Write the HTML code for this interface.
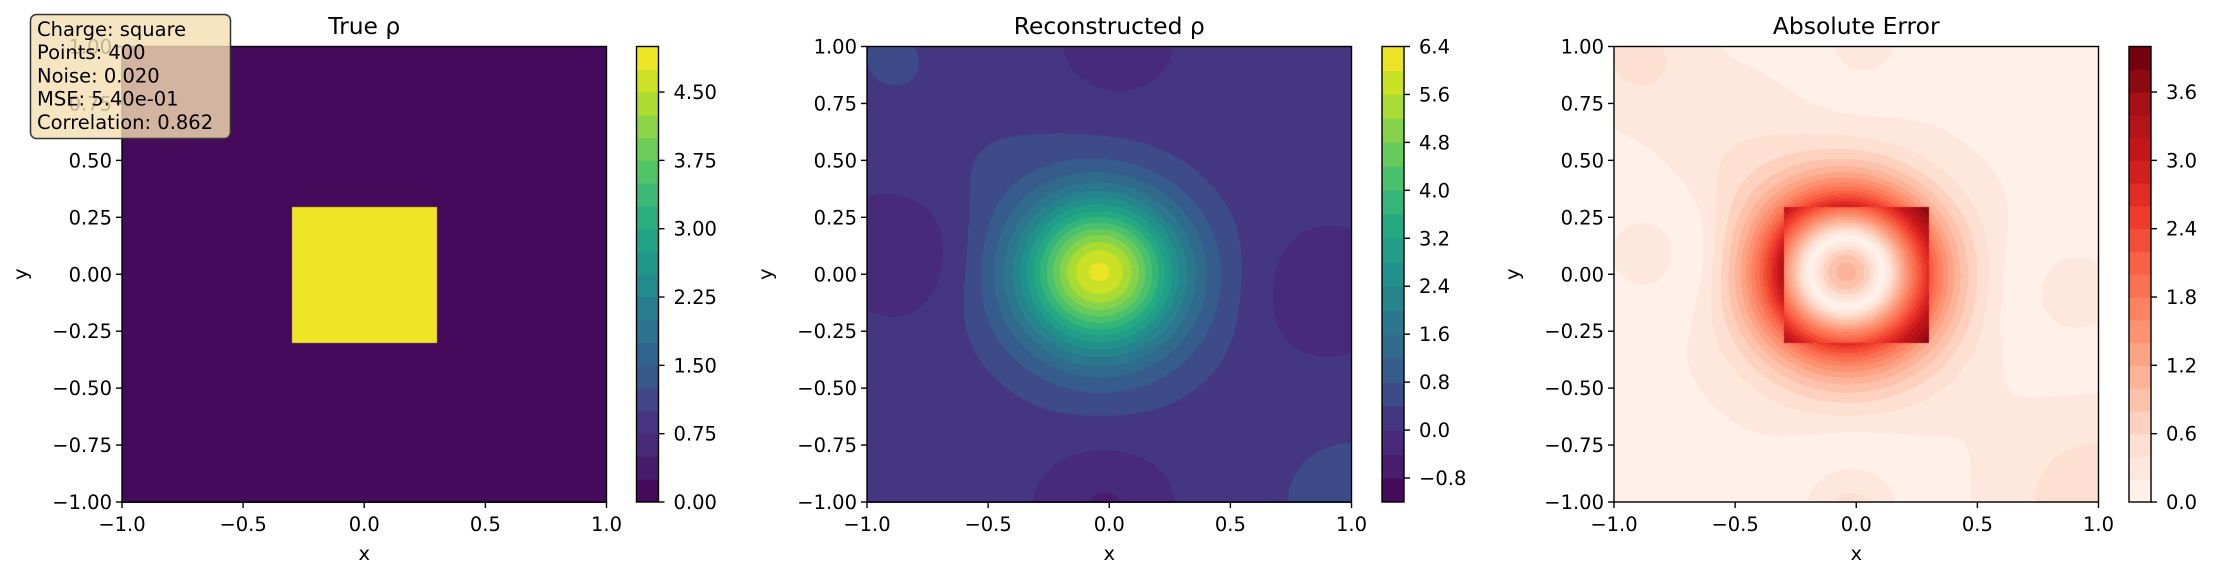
<!DOCTYPE html>
<html><head><meta charset="utf-8">
<style>
html,body{margin:0;padding:0;background:#fff;}
#fig{position:relative;width:2214px;height:581px;overflow:hidden;background:#fff;font-family:"DejaVu Sans","Liberation Sans",sans-serif;}
canvas{position:absolute;}
svg{position:absolute;left:0;top:0;}
text{font-family:"DejaVu Sans","Liberation Sans",sans-serif;fill:#000;}
</style></head>
<body>
<div id="fig">
<canvas id="c0"></canvas>
<canvas id="c1"></canvas>
<canvas id="c2"></canvas>
<svg id="ov" width="2214" height="581"></svg>
</div>
<script>
// ---- data ----
const xTicks = [-1.0, -0.5, 0.0, 0.5, 1.0];
const yTicks = [-1.0, -0.75, -0.5, -0.25, 0.0, 0.25, 0.5, 0.75, 1.0];
const titles = ["True \u03c1", "Reconstructed \u03c1", "Absolute Error"];
const levels0 = {min: 0.0, max: 5.0, step: 0.25};
const levels1 = {min: -1.2, max: 6.4, step: 0.4};
const levels2 = {min: 0.0, max: 4.0, step: 0.2};
const cbTicks0 = [0.00, 0.75, 1.50, 2.25, 3.00, 3.75, 4.50];
const cbTicks1 = [-0.8, 0.0, 0.8, 1.6, 2.4, 3.2, 4.0, 4.8, 5.6, 6.4];
const cbTicks2 = [0.0, 0.6, 1.2, 1.8, 2.4, 3.0, 3.6];
const cbDecimals = [2, 1, 1];
const squareHalf = 0.3;
const squareValue = 5.0;
// reconstruction: baseline + gaussian components (x0, y0, amplitude, spread)
const reconBase = 0.15;
const compX =   [-0.045, -0.03, 0.03, -0.85, 0.9, -0.02, -0.9, -0.5, 1.0];
const compY =   [0.03, -0.05, 1.02, 0.1, -0.08, -1.02, 0.95, 0.5, -1.0];
const compAmp = [4.05, 1.95, -0.5, -0.5, -0.5, -0.6, 0.3, 0.2, 0.4];
const compS =   [0.094, 0.158, 0.045, 0.075, 0.075, 0.065, 0.05, 0.12, 0.15];
const infoLines = ["Charge: square", "Points: 400", "Noise: 0.020", "MSE: 5.40e-01", "Correlation: 0.862"];

// ---- layout ----
const panelLeft = [122, 867, 1614];
const PW = 484.5, PT = 46.5, PH = 455.5;
const cbLeft = [636.5, 1382, 2129], CBW = 22;

const viridis = [[0,"#440154"],[0.05,"#471365"],[0.1,"#482475"],[0.15,"#472f7d"],[0.2,"#443983"],[0.25,"#3b528b"],[0.3,"#355f8d"],[0.4,"#2a788e"],[0.5,"#21918c"],[0.6,"#22a884"],[0.7,"#44bf70"],[0.8,"#7ad151"],[0.9,"#bddf26"],[1,"#fde725"]];
const reds = [[0,"#fff5f0"],[0.125,"#fee0d2"],[0.25,"#fcbba1"],[0.375,"#fc9272"],[0.5,"#fb6a4a"],[0.625,"#ef3b2c"],[0.75,"#cb181d"],[0.875,"#a50f15"],[1,"#67000d"]];
function hex(h){return [parseInt(h.slice(1,3),16),parseInt(h.slice(3,5),16),parseInt(h.slice(5,7),16)];}
function cmap(stops,t){
  t=Math.max(0,Math.min(1,t));
  for(let i=1;i<stops.length;i++){
    if(t<=stops[i][0]){const a=stops[i-1],b=stops[i];const f=(t-a[0])/(b[0]-a[0]);const ca=hex(a[1]),cb=hex(b[1]);
      return [0,1,2].map(k=>Math.round(ca[k]+(cb[k]-ca[k])*f));}
  }
  return hex(stops[stops.length-1][1]);
}
function bandColors(lv,stops){
  const n=Math.round((lv.max-lv.min)/lv.step);const out=[];
  for(let i=0;i<n;i++){const mid=lv.min+(i+0.5)*lv.step;out.push(cmap(stops,(mid-lv.min)/(lv.max-lv.min)));}
  return out;
}
function trueRho(x,y){
  return (Math.abs(x)<=squareHalf && Math.abs(y)<=squareHalf) ? squareValue : 0;
}
function recon(x,y){
  let v=reconBase;
  for(let i=0;i<compX.length;i++){const dx=x-compX[i],dy=y-compY[i];v+=compAmp[i]*Math.exp(-(dx*dx+dy*dy)/compS[i]);}
  return v;
}
const fields=[trueRho, recon, (x,y)=>Math.abs(recon(x,y)-trueRho(x,y))];
const lvls=[levels0,levels1,levels2];
const stopsArr=[viridis,viridis,reds];

for(let p=0;p<3;p++){
  const cv=document.getElementById('c'+p);
  const L=Math.round(panelLeft[p]), T=Math.round(PT), W=Math.round(PW), H=Math.round(PH);
  cv.width=W;cv.height=H;cv.style.left=L+'px';cv.style.top=T+'px';
  const ctx=cv.getContext('2d');const img=ctx.createImageData(W,H);
  const cols=bandColors(lvls[p],stopsArr[p]);const lv=lvls[p];
  for(let j=0;j<H;j++){const y=1-2*(j+0.5)/H;
    for(let i=0;i<W;i++){const x=-1+2*(i+0.5)/W;
      const v=fields[p](x,y);
      let b=Math.floor((v-lv.min)/lv.step);b=Math.max(0,Math.min(cols.length-1,b));
      const c=cols[b];const k=(j*W+i)*4;img.data[k]=c[0];img.data[k+1]=c[1];img.data[k+2]=c[2];img.data[k+3]=255;}}
  ctx.putImageData(img,0,0);
}

const NS="http://www.w3.org/2000/svg";
const ov=document.getElementById('ov');
function mk(tag,attrs,parent){const e=document.createElementNS(NS,tag);for(const k in attrs)e.setAttribute(k,attrs[k]);(parent||ov).appendChild(e);return e;}
function fmt(v,d){const s=Math.abs(v).toFixed(d);return (v<-1e-9?"\u2212":"")+s;}
function sx(p,v){return panelLeft[p]+(v+1)/2*PW;}
function sy(v){return PT+(1-v)/2*PH;}

for(let p=0;p<3;p++){
  const g=mk('g',{});
  
  
  const t=mk('text',{x:panelLeft[p]+PW/2,y:34,'text-anchor':'middle','font-size':'23.4px'},g);
  t.textContent=titles[p];
  
  
  for(const v of xTicks){
    const X=sx(p,v);
    mk('line',{x1:X,x2:X,y1:PT+PH,y2:PT+PH+6,stroke:'#000','stroke-width':1.4},g);
    const tl=mk('text',{x:X,y:531,'text-anchor':'middle','font-size':'19.5px'},g);
    tl.textContent=fmt(v,1);
    
    
  }
  for(const v of yTicks){
    const Y=sy(v);
    mk('line',{x1:panelLeft[p]-6,x2:panelLeft[p],y1:Y,y2:Y,stroke:'#000','stroke-width':1.4},g);
    const tl=mk('text',{x:panelLeft[p]-10,y:Y+7,'text-anchor':'end','font-size':'19.5px'},g);
    tl.textContent=fmt(v,2);
    
    
  }
  const xl=mk('text',{x:panelLeft[p]+PW/2,y:560,'text-anchor':'middle','font-size':'19.5px'},g);
  xl.textContent='x';
  
  
  const ylx=panelLeft[p]-95;
  const yl=mk('text',{x:ylx,y:PT+PH/2,'text-anchor':'middle','font-size':'19.5px',transform:`rotate(-90 ${ylx} ${PT+PH/2})`},g);
  yl.textContent='y';
  
  
  mk('rect',{x:panelLeft[p],y:PT,width:PW,height:PH,fill:'none',stroke:'#000','stroke-width':1.4},g);

  const cb=mk('g',{});
  
  
  const lv=lvls[p];const cols=bandColors(lv,stopsArr[p]);
  const cy=v=>PT+PH-(v-lv.min)/(lv.max-lv.min)*PH;
  for(let i=0;i<cols.length;i++){
    const y0=cy(lv.min+(i+1)*lv.step),y1=cy(lv.min+i*lv.step);
    const r=mk('rect',{x:cbLeft[p],y:y0,width:CBW,height:y1-y0+0.5,fill:`rgb(${cols[i].join(',')})`},cb);
    
    
  }
  mk('rect',{x:cbLeft[p],y:PT,width:CBW,height:PH,fill:'none',stroke:'#000','stroke-width':1.4},cb);
  const ticks=[cbTicks0,cbTicks1,cbTicks2][p];
  for(const v of ticks){
    const Y=cy(v);
    mk('line',{x1:cbLeft[p]+CBW,x2:cbLeft[p]+CBW+6,y1:Y,y2:Y,stroke:'#000','stroke-width':1.4},cb);
    const tl=mk('text',{x:cbLeft[p]+CBW+15,y:Y+7,'text-anchor':'start','font-size':'19.5px'},cb);
    tl.textContent=fmt(v,cbDecimals[p]);
    
    
  }
}

const ib=mk('g',{});


mk('rect',{x:30.5,y:14.5,width:200,height:124,rx:6,ry:6,fill:'rgba(245,222,179,0.8)',stroke:'#333','stroke-width':1.5},ib);
infoLines.forEach((s,i)=>{
  const t=mk('text',{x:37,y:36+i*23.2,'font-size':'19.5px'},ib);
  t.textContent=s;
  
  
});
</script>
</body></html>
